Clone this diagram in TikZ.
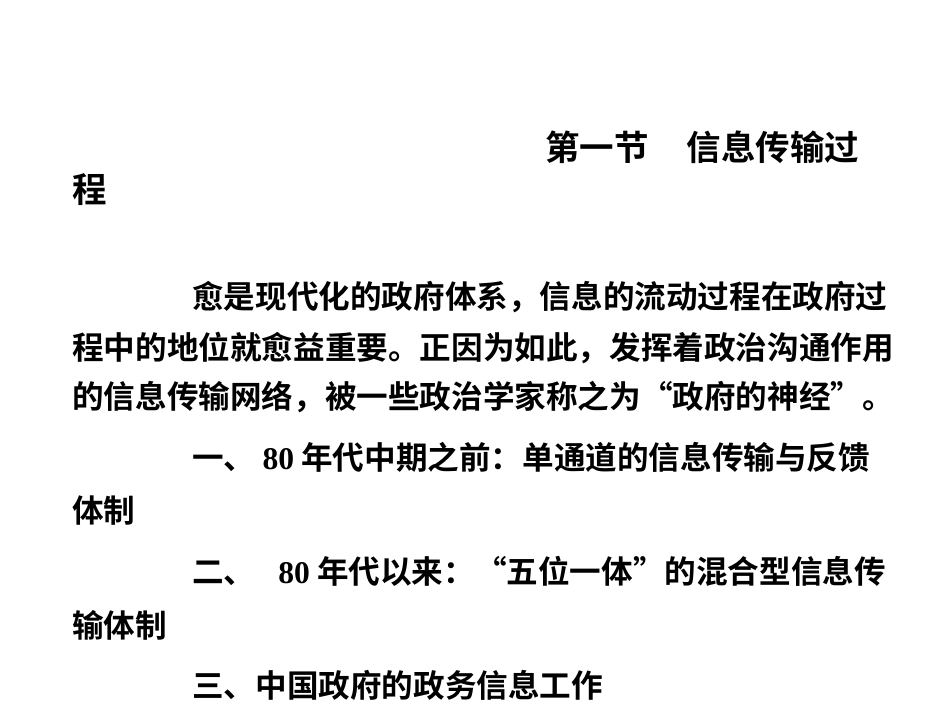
\documentclass[tikz,border=0pt]{standalone}
\usepackage{fontspec}
\newfontfamily\cjk{Noto Sans CJK SC}[BoldFont=* Bold]
\newfontfamily\tnr{Liberation Serif}
\begin{document}
\begin{tikzpicture}[x=1pt,y=-1pt,
  title/.style={anchor=west,inner sep=0pt,font=\cjk\bfseries\fontsize{34.5}{34.5}\selectfont},
  body/.style={anchor=west,inner sep=0pt,font=\cjk\bfseries\fontsize{31.6}{31.6}\selectfont}]
\useasboundingbox[fill=white] (0,0) rectangle (950,713);
\node[title] (t1) at (545,147) {第一节\hspace{1.1em}信息传输过};
\node[title] (t2) at (72,190) {程};
\node[body] (p1) at (192,297) {愈是现代化的政府体系，信息的流动过程在政府过};
\node[body] (p2) at (72,348) {程中的地位就愈益重要。正因为如此，发挥着政治沟通作用};
\node[body] (p3) at (72,397) {的信息传输网络，被一些政治学家称之为“政府的神经”。};
\node[body] (a1) at (192,457) {一、 {\tnr\bfseries 80} 年代中期之前：单通道的信息传输与反馈};
\node[body] (a2) at (72,511) {体制};
\node[body] (b1) at (192,571) {二、\hspace{0.5em} {\tnr\bfseries 80} 年代以来：“五位一体”的混合型信息传};
\node[body] (b2) at (72,625) {输体制};
\node[body] (c1) at (192,685) {三、中国政府的政务信息工作};
\end{tikzpicture}
\end{document}
